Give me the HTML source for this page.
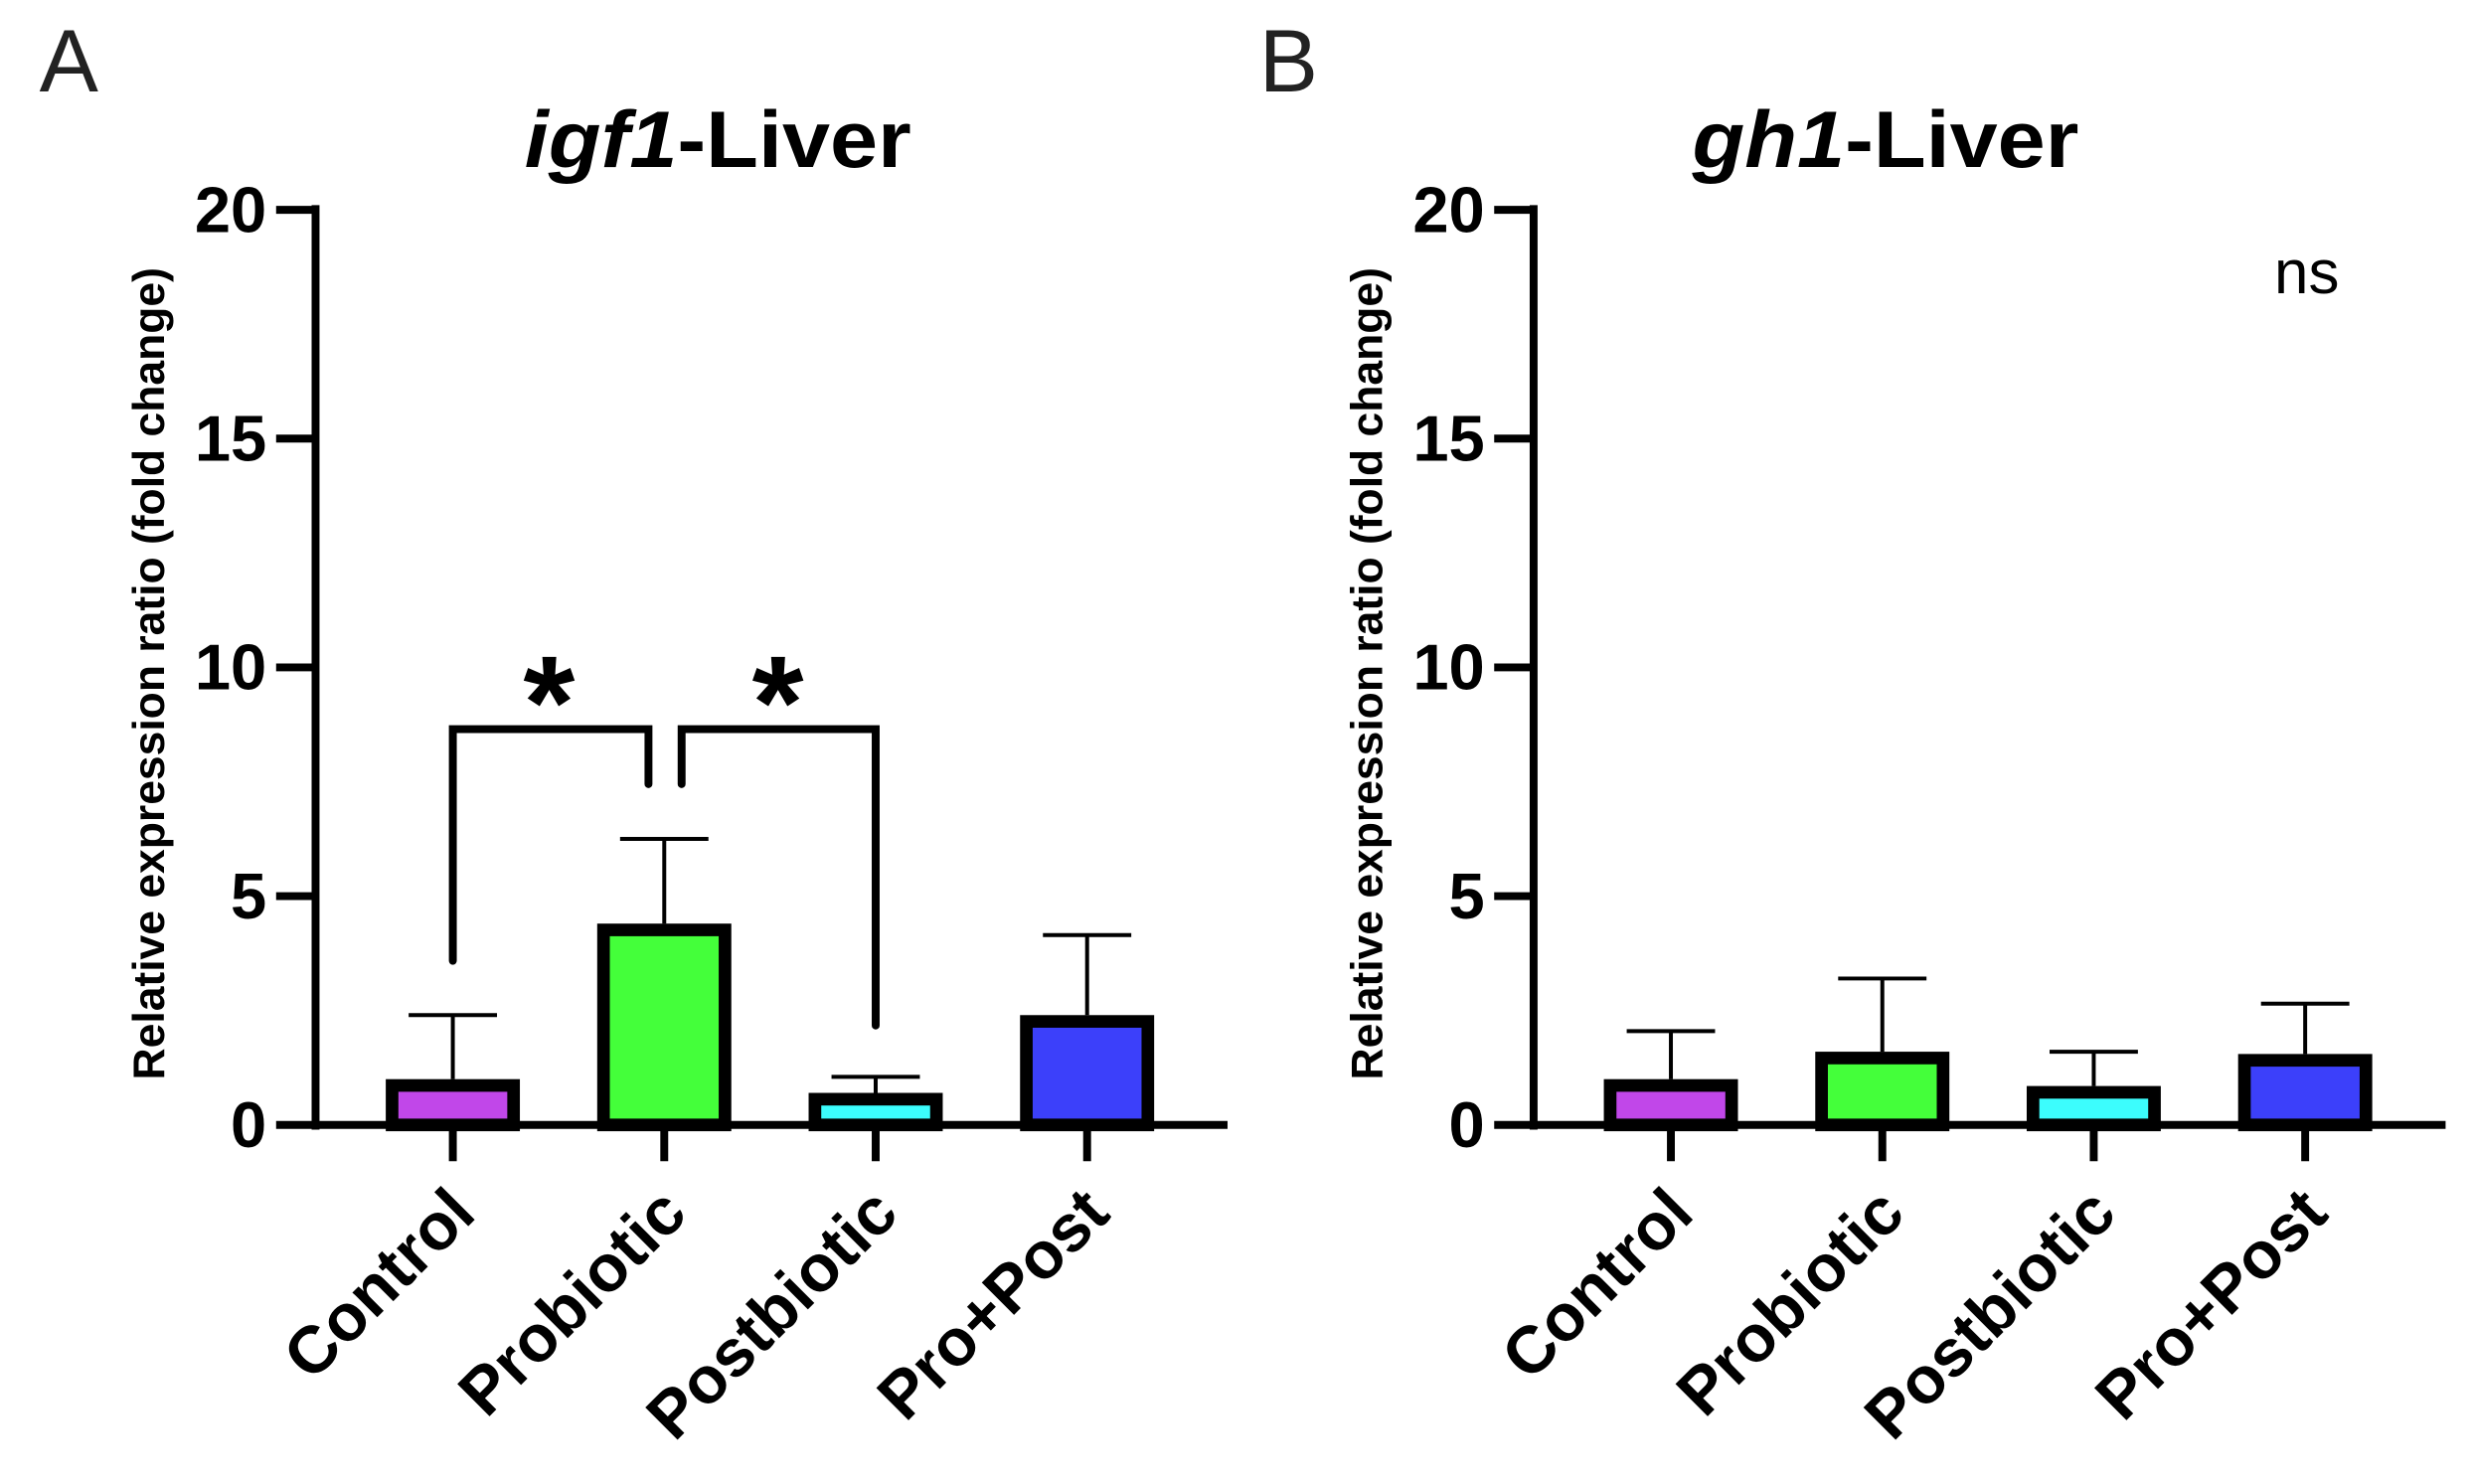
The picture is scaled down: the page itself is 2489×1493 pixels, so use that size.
<!DOCTYPE html>
<html><head><meta charset="utf-8"><style>
html,body{margin:0;padding:0;background:#fff;}
svg{display:block;font-family:"Liberation Sans",Arial,sans-serif;}
</style></head><body>
<svg id="fig" width="2489" height="1493" viewBox="0 0 1568 940.6" preserveAspectRatio="none">
<rect width="1568" height="940.6" fill="#fff"/>
</svg>
<script>
const categories = ["Control","Probiotic","Postbiotic","Pro+Post"];
const colors = ["#c147e9","#44ff3a","#3cfdfd","#3c40fa"];
const igf1Means = [1.0, 4.4, 0.7, 2.4];
const igf1Errors = [2.4, 6.25, 1.05, 4.15];
const gh1Means = [1.0, 1.6, 0.85, 1.55];
const gh1Errors = [2.05, 3.2, 1.6, 2.65];
const yTicks = [0,5,10,15,20];

const NS="http://www.w3.org/2000/svg";
const svg=document.getElementById('fig');
function mk(tag,attrs,parent){const e=document.createElementNS(NS,tag);for(const k in attrs)e.setAttribute(k,attrs[k]);(parent||svg).appendChild(e);return e;}

function panel(ax, means, errs, title, letter, letterX, key, titleX){
  const g=mk('g',{});
  
  
  const y0=713, yTop=133, ymax=20;
  const y=v=>y0-(v/ymax)*(y0-yTop);
  const x0=ax, step=134, first=ax+87;
  const xc=i=>first+i*step;
  const L=mk('text',{x:letterX,y:58,'font-size':56,fill:'#222'},g);L.textContent=letter;
  
  
  const T=mk('text',{x:titleX,y:106,'font-size':51,'font-weight':'bold','text-anchor':'middle',textLength:245,lengthAdjust:'spacingAndGlyphs'},g);
  
  
  const ts=mk('tspan',{'font-style':'italic'},T);ts.textContent=title;
  const ts2=mk('tspan',{},T);ts2.textContent='-Liver';
  const ya=mk('line',{x1:x0,y1:yTop-3,x2:x0,y2:y0+3,stroke:'#000','stroke-width':5},g);
  
  
  yTicks.forEach(t=>{
    const tl=mk('line',{x1:x0-25,y1:y(t),x2:x0,y2:y(t),stroke:'#000','stroke-width':5},g);
    
    
    const tx=mk('text',{x:x0-31,y:y(t)+14,'font-size':41,'font-weight':'bold','text-anchor':'end'},g);
    tx.textContent=t;
    
    
  });
  const yt=mk('text',{x:0,y:0,'font-size':28,'font-weight':'bold','text-anchor':'middle',transform:`translate(${x0-96},${(y0+yTop)/2+4}) rotate(-90)`},g);
  yt.textContent='Relative expression ratio (fold change)';
  
  
  const xa=mk('line',{x1:x0-2,y1:y0,x2:x0+578,y2:y0,stroke:'#000','stroke-width':5},g);
  
  
  categories.forEach((c,i)=>{
    const cx=xc(i);
    const tk=mk('line',{x1:cx,y1:y0,x2:cx,y2:y0+23,stroke:'#000','stroke-width':5},g);
    
    
    const lb=mk('text',{x:0,y:0,'font-size':42,'font-weight':'bold','text-anchor':'end',transform:`translate(${cx+16},${y0+58}) rotate(-45)`},g);
    lb.textContent=c;
    
    
    const eb=mk('line',{x1:cx,y1:y(means[i]),x2:cx,y2:y(errs[i]),stroke:'#000','stroke-width':2.5},g);
    
    
    const cap=mk('line',{x1:cx-28,y1:y(errs[i]),x2:cx+28,y2:y(errs[i]),stroke:'#000','stroke-width':2.5},g);
    
    
    const bw=85;
    const b=mk('rect',{x:cx-bw/2+4,y:y(means[i])+4,width:bw-8,height:Math.max(0,y0-y(means[i])-4),fill:colors[i],stroke:'#000','stroke-width':8},g);
    
    
  });
  return {xc,y};
}

const A=panel(200, igf1Means, igf1Errors, 'igf1','A',25,'igf1',455);
function bracket(x1,yl,x2,yr,ytop,starX){
  const p=mk('path',{d:`M${x1},${yl} L${x1},${ytop} L${x2},${ytop} L${x2},${yr}`,fill:'none',stroke:'#000','stroke-width':5,'stroke-linecap':'round'});
  
  
  const s=mk('text',{x:starX,y:ytop+12,'font-size':84,'font-weight':'bold','text-anchor':'middle'});
  s.textContent='*';
  
  
}
bracket(A.xc(0),609,A.xc(1)-10,497,A.y(8.65),348);
bracket(A.xc(1)+11,497,A.xc(2),650,A.y(8.65),493);

panel(972, gh1Means, gh1Errors, 'gh1','B',798,'gh1',1195);
const ns=mk('text',{x:1462,y:186,'font-size':39,'text-anchor':'middle'});
ns.textContent='ns';


</script>
</body></html>
